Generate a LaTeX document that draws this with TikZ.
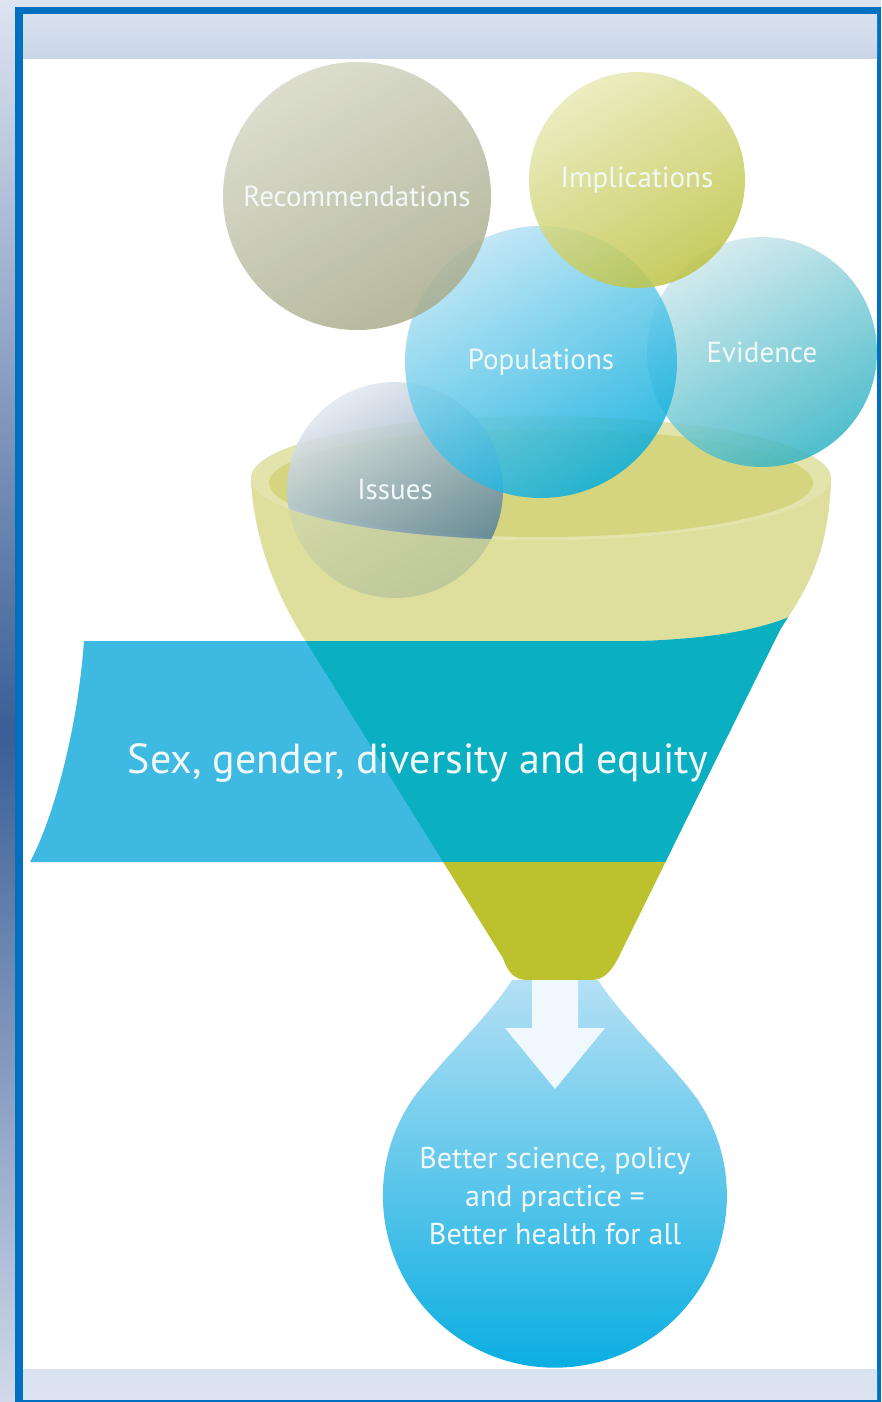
\documentclass[tikz,border=0pt]{standalone}
\usepackage{fontspec}
\setmainfont{PT Sans}
\usetikzlibrary{positioning}

\definecolor{framebl}{HTML}{0070C0}
\definecolor{bandtop}{HTML}{D8E1EF}
\definecolor{bandbot}{HTML}{C9D6E8}
\definecolor{stripend}{HTML}{DDE4F1}
\definecolor{stripmid}{HTML}{3A5E95}
\definecolor{cupyel}{HTML}{DEDF9C}
\definecolor{cuprim}{HTML}{E3E4AC}
\definecolor{cupin}{HTML}{D4D57E}
\definecolor{cupolive}{HTML}{BCC12E}
\definecolor{bannerbl}{HTML}{3DB9E2}
\definecolor{bannerteal}{HTML}{0BAFC2}
\definecolor{dropA}{HTML}{B4E0F5}
\definecolor{dropB}{HTML}{00ABE0}
\definecolor{arrowwh}{HTML}{EEF8FD}
\definecolor{recA}{HTML}{D6D8C6}
\definecolor{recB}{HTML}{A9AC8C}
\definecolor{impA}{HTML}{E8EAB6}
\definecolor{impB}{HTML}{BEC344}
\definecolor{popA}{HTML}{B8E3F5}
\definecolor{popB}{HTML}{08ADDD}
\definecolor{eviA}{HTML}{CFE8EC}
\definecolor{eviB}{HTML}{33B4C4}
\definecolor{issA}{HTML}{E2E8F1}
\definecolor{issB}{HTML}{4A7792}
\definecolor{labeltxt}{HTML}{F2F8F8}

\begin{document}
\begin{tikzpicture}[x=1pt,y=1pt,
    bubble/.style={circle,inner sep=0pt,minimum size=#1,fill opacity=0.85,text opacity=1,
      text=labeltxt,font=\fontsize{29}{32}\selectfont},
    bandtext/.style={text=labeltxt,font=\fontsize{42}{48}\selectfont},
    goaltext/.style={text=labeltxt,align=center,font=\fontsize{30}{38}\selectfont}]
  \useasboundingbox (0,0) rectangle (881,-1402);
  % frame
  \fill[stripend] (0,0) rectangle (881,-1402);
  \shade[top color=stripend,bottom color=stripmid] (0,0) rectangle (15,-733);
  \shade[top color=stripmid,bottom color=stripend!92!stripmid] (0,-733) rectangle (15,-1402);
  \fill[framebl] (15,-7) rectangle (881,-1402);
  \shade[top color=bandtop,bottom color=bandbot] (23,-15) rectangle (877,-59);
  \fill[white] (23,-59) rectangle (877,-1369);
  \shade[top color=bandbot!70!white,bottom color=bandtop!90!white] (23,-1369) rectangle (877,-1399);

  % funnel
  \path[save path=\funnelpath] (251,-478) arc[start angle=180,end angle=360,x radius=290,y radius=62]
      .. controls (828,-560) and (805,-590) .. (780,-630) -- (622,-950)
      .. controls (612,-972) and (604,-980) .. (590,-980) -- (528,-980)
      .. controls (514,-980) and (508,-972) .. (503,-958) -- (305,-640)
      .. controls (280,-600) and (254,-545) .. (251,-478) -- cycle;
  \fill[cupyel,use path=\funnelpath];
  \fill[cuprim] (541,-478) ellipse[x radius=290,y radius=62];
  \fill[cupin] (541,-483) ellipse[x radius=272,y radius=54];

  \foreach \nm/\x/\y/\d/\ca/\cb/\txt in {iss/395/-490/216/issA/issB/Issues,
      evi/762/-352/230/eviA/eviB/Evidence, pop/541/-362/272/popA/popB/Populations,
      rec/357/-196/268/recA/recB/Recommendations, imp/637/-180/216/impA/impB/Implications} {
    \node[bubble=\d,top color=\ca,bottom color=\cb,shading angle=30] (\nm) at (\x,\y) {\txt};
  }

  % front wall of the cup
  \begin{scope}
    \clip (0,-478) rectangle (881,-641);
    \fill[cupyel,fill opacity=0.75,use path=\funnelpath];
  \end{scope}

  % banner
  \fill[bannerbl] (84,-641) -- (560,-641) -- (560,-862) -- (30,-862)
      .. controls (55,-815) and (78,-725) .. (84,-641) -- cycle;
  \begin{scope}
    \clip[use path=\funnelpath];
    \fill[bannerteal] (250,-641) -- (640,-641) .. controls (700,-639) and (760,-632) .. (800,-612)
        -- (800,-862) -- (250,-862) -- cycle;
    \fill[cupolive] (250,-862) rectangle (800,-1000);
  \end{scope}
  \node[bandtext,anchor=base] (band) at (418,-773) {Sex, gender, diversity and equity};

  % outcome drop
  \shade[top color=dropA,bottom color=dropB] (512,-980)
      .. controls (490,-1015) and (440,-1062) .. (414,-1097)
      arc[start angle=145,end angle=395,radius=172]
      .. controls (670,-1062) and (620,-1015) .. (598,-980) -- cycle;
  \fill[arrowwh] (532,-980) -- (578,-980) -- (578,-1028) -- (605,-1028) -- (555,-1089)
      -- (505,-1028) -- (532,-1028) -- cycle;
  \node[goaltext] (goal) at (555,-1196) {Better science, policy\\and practice =\\Better health for all};
\end{tikzpicture}
\end{document}
